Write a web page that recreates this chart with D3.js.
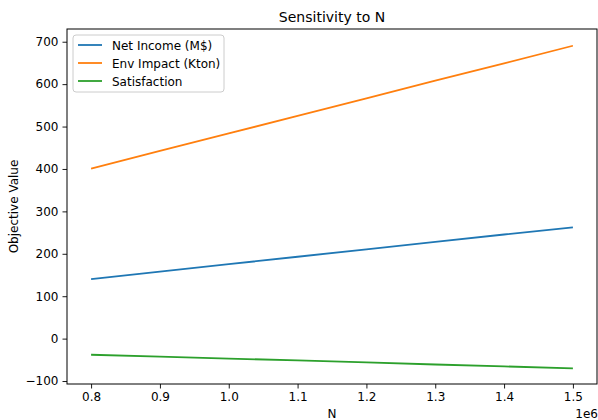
<!DOCTYPE html>
<html>
<head>
<meta charset="utf-8">
<script src="https://cdn.jsdelivr.net/npm/d3@7"></script>
<style>
  body { margin: 0; background: #fff; }
  text { font-family: "DejaVu Sans", sans-serif; fill: #000; }
</style>
</head>
<body>
<svg id="chart"></svg>
<script>
// N values (x 1e6) and the three objective series
const nValues = [0.8, 0.9, 1.0, 1.1, 1.2, 1.3, 1.4, 1.5];
const netIncome = [140.5, 158, 175.5, 193, 210.5, 228, 245.5, 262.5];
const envImpact = [401, 442.5, 484, 525, 566.5, 608, 649, 690.5];
const satisfaction = [-38, -42.5, -47, -51.5, -56, -61, -65.5, -70];
const seriesNames = ["Net Income (M$)", "Env Impact (Kton)", "Satisfaction"];
const colors = ["#1f77b4", "#ff7f0e", "#2ca02c"];
const xTicks = [0.8, 0.9, 1.0, 1.1, 1.2, 1.3, 1.4, 1.5];
const yTicks = [-100, 0, 100, 200, 300, 400, 500, 600, 700];

let width = 598, height = 420;
let margin = {left: 67, right: 1, top: 29, bottom: 36};

let svg = d3.select("#chart").attr("width", width).attr("height", height);

let x = d3.scaleLinear().domain([0.765, 1.535]).range([margin.left, width - margin.right]);
let y = d3.scaleLinear().domain([-107, 730]).range([height - margin.bottom, margin.top]);

// axes
let xAxis = svg.append("g")
    .attr("transform", "translate(0," + (height - margin.bottom) + ")")
    .call(d3.axisBottom(x).tickValues(xTicks).tickFormat(d3.format(".1f")).tickSizeOuter(0).tickSize(4.5).tickPadding(4));
let yAxis = svg.append("g")
    .attr("transform", "translate(" + margin.left + ",0)")
    .call(d3.axisLeft(y).tickValues(yTicks).tickFormat(d => d < 0 ? "\u2212" + Math.abs(d) : d).tickSizeOuter(0).tickSize(4.5).tickPadding(4));

svg.selectAll(".tick text").attr("font-size", 12).attr("font-family", "DejaVu Sans").attr("fill", "#000");
svg.selectAll(".tick line").attr("stroke", "#000").attr("stroke-width", 0.9);
svg.selectAll(".domain").remove();

// frame
svg.append("rect")
    .attr("x", margin.left).attr("y", margin.top)
    .attr("width", width - margin.right - margin.left)
    .attr("height", height - margin.bottom - margin.top)
    .attr("fill", "none").attr("stroke", "#000").attr("stroke-width", 1);

// lines
let line = d3.line().x((d, i) => x(nValues[i])).y(d => y(d));
[netIncome, envImpact, satisfaction].forEach((s, k) => {
    svg.append("path")
        .datum(s)
        .attr("d", line)
        .attr("fill", "none")
        .attr("stroke", colors[k])
        .attr("stroke-width", 1.8);
});

// title and labels
svg.append("text").attr("x", (margin.left + width - margin.right) / 2).attr("y", 22)
    .attr("text-anchor", "middle").attr("font-size", 14).text("Sensitivity to N");
svg.append("text").attr("x", (margin.left + width - margin.right) / 2).attr("y", 418)
    .attr("text-anchor", "middle").attr("font-size", 12).text("N");
svg.append("text").attr("x", 598).attr("y", 418)
    .attr("text-anchor", "end").attr("font-size", 12).text("1e6");
svg.append("text")
    .attr("transform", "translate(18," + ((margin.top + height - margin.bottom) / 2) + ") rotate(-90)")
    .attr("text-anchor", "middle").attr("font-size", 12).text("Objective Value");

// legend
let legend = svg.append("g");
legend.append("rect")
    .attr("x", 73).attr("y", 35).attr("width", 151).attr("height", 57).attr("rx", 3)
    .attr("fill", "#fff").attr("fill-opacity", 0.8).attr("stroke", "#ccc");
seriesNames.forEach((name, k) => {
    let ly = 45 + k * 18;
    legend.append("line").attr("x1", 78).attr("x2", 102).attr("y1", ly).attr("y2", ly)
        .attr("stroke", colors[k]).attr("stroke-width", 1.8);
    legend.append("text").attr("x", 112).attr("y", ly + 4.5).attr("font-size", 12).text(name);
});
</script>
</body>
</html>
